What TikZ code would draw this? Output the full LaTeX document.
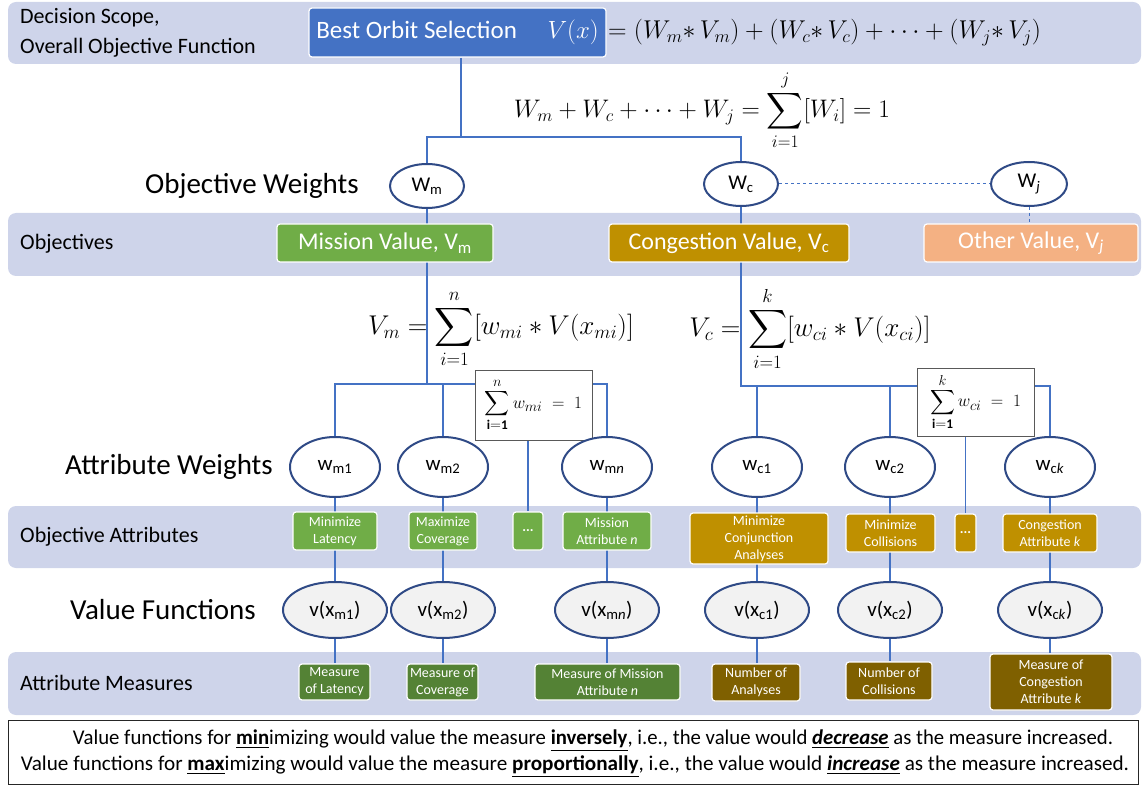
\documentclass[tikz,border=0pt]{standalone}
\usepackage{amsmath}
\usepackage{graphicx}
\usepackage{fontspec}
\setmainfont{Carlito}
\usetikzlibrary{shapes.geometric}
\pgfdeclarelayer{bands}
\pgfdeclarelayer{wires}
\pgfsetlayers{bands,wires,main}
\definecolor{bandc}{RGB}{206,212,234}
\definecolor{topc}{RGB}{68,114,196}
\definecolor{grn}{RGB}{112,173,71}
\definecolor{gold}{RGB}{191,144,0}
\definecolor{orng}{RGB}{244,177,131}
\definecolor{dgrn}{RGB}{84,130,53}
\definecolor{dgold}{RGB}{127,96,0}
\definecolor{linec}{RGB}{68,114,196}
\definecolor{ellc}{RGB}{47,74,134}
\definecolor{vfill}{RGB}{242,242,242}
\tikzset{
  band/.style={fill=bandc, rounded corners=8pt},
  lbl/.style={anchor=west, inner sep=0, font=\fontsize{22}{26}\selectfont},
  biglbl/.style={anchor=west, inner sep=0, font=\fontsize{29}{32}\selectfont},
  wire/.style={draw=linec, line width=1.8pt},
  dline/.style={draw=linec, line width=1pt, dashed},
  ellw/.style={ellipse, draw=ellc, line width=2pt, fill=white, inner sep=0, font=\fontsize{21}{24}\selectfont},
  ellv/.style={ellw, fill=vfill},
  obox/.style={rectangle, rounded corners=3pt, draw=white, line width=1.2pt, text=white, align=center, inner sep=0},
  objbox/.style={obox, font=\fontsize{24}{28}\selectfont, minimum height=38pt},
  atbox/.style={obox, font=\fontsize{14}{17}\selectfont},
  sumbox/.style={rectangle, draw=black!65, line width=1pt, fill=white, inner sep=0, font=\fontsize{19}{22}\selectfont},
  eqn/.style={inner sep=0, font=\fontsize{24}{28}\selectfont},
}
\begin{document}
\begin{tikzpicture}[x=1pt,y=-1pt]
\useasboundingbox (0,0) rectangle (1146,786);
% bands
\begin{pgfonlayer}{bands}
\fill[band] (8,2) rectangle (1141,64);
\fill[band] (8,213) rectangle (1141,276);
\fill[band] (8,506) rectangle (1141,568);
\fill[band] (8,652) rectangle (1141,715);
\end{pgfonlayer}
% row labels
\node[lbl] (lDS) at (20,18) {Decision Scope,};
\node[lbl] (lOF) at (20,48) {Overall Objective Function};
\node[biglbl] (lOW) at (145,186) {Objective Weights};
\node[lbl] (lOB) at (20,244) {Objectives};
\node[biglbl] (lAW) at (65,467) {Attribute Weights};
\node[lbl] (lOA) at (20,537) {Objective Attributes};
\node[biglbl] (lVF) at (70,610) {Value Functions};
\node[lbl] (lAM) at (20,683) {Attribute Measures};
% top
\node[obox, fill=topc, minimum width=297pt, minimum height=49pt, font=\fontsize{25}{30}\selectfont] (top) at (457.5,32.5) {Best Orbit Selection\quad\ $V(x)$};
\node[eqn, anchor=west] (eqV) at (608,33) {\scalebox{1.035}{$= (W_m{*}\,V_m) + (W_c{*}\,V_c) + \cdots + (W_j{*}\,V_j)$}};
\node[eqn] (eqW) at (702,110) {\scalebox{1.02}{$W_m + W_c + \cdots + W_j = \displaystyle\sum_{i=1}^{j}[W_i] = 1$}};
% objective weights
\node[ellw, minimum width=74pt, minimum height=44pt] (Wm) at (427,186) {W\textsubscript{m}};
\node[ellw, minimum width=74pt, minimum height=44pt] (Wc) at (741,184) {W\textsubscript{c}};
\node[ellw, minimum width=76pt, minimum height=44pt] (Wj) at (1029,184) {W\textsubscript{\textit{j}}};
% objectives
\node[objbox, fill=grn, minimum width=216pt] (Mv) at (385,243) {Mission Value, V\textsubscript{m}};
\node[objbox, fill=gold, minimum width=240pt] (Cv) at (729,243) {Congestion Value, V\textsubscript{c}};
\node[objbox, fill=orng, minimum width=214pt] (Ov) at (1031,243) {Other Value, V\textsubscript{\textit{j}}};
% equations
\node[eqn] (eqVm) at (501,329) {\scalebox{1.09}{$V_m = \displaystyle\sum_{i=1}^{n}[w_{mi} * V(x_{mi})]$}};
\node[eqn] (eqVc) at (810,329) {\scalebox{1.09}{$V_c = \displaystyle\sum_{i=1}^{k}[w_{ci} * V(x_{ci})]$}};
\node[sumbox, minimum width=117pt, minimum height=70pt] (Sm) at (533.5,405) {$\displaystyle\sum_{\mathbf{i=1}}^{n} w_{mi}\;=\;1$};
\node[sumbox, minimum width=117pt, minimum height=68pt] (Sc) at (975.5,402) {$\displaystyle\sum_{\mathbf{i=1}}^{k} w_{ci}\;=\;1$};
% attribute weights
\node[ellw, minimum width=90pt, minimum height=60pt] (wm1) at (335,467) {w\textsubscript{m1}};
\node[ellw, minimum width=90pt, minimum height=60pt] (wm2) at (443,467) {w\textsubscript{m2}};
\node[ellw, minimum width=90pt, minimum height=60pt] (wmn) at (607,467) {w\textsubscript{m\textit{n}}};
\node[ellw, minimum width=90pt, minimum height=60pt] (wc1) at (757,467) {w\textsubscript{c1}};
\node[ellw, minimum width=90pt, minimum height=60pt] (wc2) at (890,467) {w\textsubscript{c2}};
\node[ellw, minimum width=90pt, minimum height=60pt] (wck) at (1050,467) {w\textsubscript{c\textit{k}}};
% objective attributes
\node[atbox, fill=grn, minimum width=84pt, minimum height=38pt] (am1) at (335,531) {Minimize\\Latency};
\node[atbox, fill=grn, minimum width=68pt, minimum height=38pt] (am2) at (443,531) {Maximize\\Coverage};
\node[atbox, fill=grn, minimum width=30pt, minimum height=38pt] (dm) at (528,531) {\textbf{...}};
\node[atbox, fill=grn, minimum width=88pt, minimum height=38pt] (amn) at (607,531) {Mission\\Attribute \textit{n}};
\node[atbox, fill=gold, minimum width=138pt, minimum height=51pt] (ac1) at (759,538.5) {Minimize\\Conjunction\\Analyses};
\node[atbox, fill=gold, minimum width=89pt, minimum height=38pt] (ac2) at (890.5,533) {Minimize\\Collisions};
\node[atbox, fill=gold, minimum width=21pt, minimum height=38pt] (dc) at (965.5,533) {\textbf{...}};
\node[atbox, fill=gold, minimum width=94pt, minimum height=38pt] (ack) at (1050,533) {Congestion\\Attribute \textit{k}};
% value functions
\node[ellv, minimum width=104pt, minimum height=56pt] (vm1) at (335,610) {v(x\textsubscript{m1})};
\node[ellv, minimum width=104pt, minimum height=56pt] (vm2) at (443,610) {v(x\textsubscript{m2})};
\node[ellv, minimum width=104pt, minimum height=56pt] (vmn) at (607,610) {v(x\textsubscript{m\textit{n}})};
\node[ellv, minimum width=104pt, minimum height=56pt] (vc1) at (757,610) {v(x\textsubscript{c1})};
\node[ellv, minimum width=104pt, minimum height=56pt] (vc2) at (890,610) {v(x\textsubscript{c2})};
\node[ellv, minimum width=104pt, minimum height=56pt] (vck) at (1050,610) {v(x\textsubscript{c\textit{k}})};
% attribute measures
\node[atbox, fill=dgrn, minimum width=71pt, minimum height=36pt] (mm1) at (334.5,682) {Measure\\of Latency};
\node[atbox, fill=dgrn, minimum width=71pt, minimum height=36pt] (mm2) at (442.5,682) {Measure of\\Coverage};
\node[atbox, fill=dgrn, minimum width=145pt, minimum height=36pt] (mmn) at (607.5,682) {Measure of Mission\\Attribute \textit{n}};
\node[atbox, fill=dgold, minimum width=88pt, minimum height=37pt] (mc1) at (756,682.5) {Number of\\Analyses};
\node[atbox, fill=dgold, minimum width=86pt, minimum height=38pt] (mc2) at (889,681) {Number of\\Collisions};
\node[atbox, fill=dgold, minimum width=122pt, minimum height=56pt] (mck) at (1051,682) {Measure of\\Congestion\\Attribute \textit{k}};
% note box
\node[draw=black!85, line width=1pt, minimum width=1130pt, minimum height=64pt, inner sep=0] (note) at (573,752) {};
\node[inner sep=0, font=\fontsize{21}{24}\selectfont] (n1) at (593,741) {\resizebox{1040pt}{\height}{Value functions for \underline{\textbf{min}}imizing would value the measure \underline{\textbf{inversely}}, i.e., the value would \underline{\textbf{\textit{decrease}}} as the measure increased.}};
\node[inner sep=0, font=\fontsize{21}{24}\selectfont] (n2) at (575,767) {\resizebox{1108pt}{\height}{Value functions for \underline{\textbf{max}}imizing would value the measure \underline{\textbf{proportionally}}, i.e., the value would \underline{\textbf{\textit{increase}}} as the measure increased.}};
% wires
\begin{pgfonlayer}{wires}
\coordinate (tJ) at (461,137);
\draw[wire] (top.south -| tJ) -- (tJ);
\draw[wire] (Wm.north) -- (Wm.north |- tJ) -- (Wc.north |- tJ) -- (Wc.north);
\draw[dline] (Wc.east) -- (Wj.west);
\draw[dline] (Wj.south) -- (Wj.south |- Ov.north);
\coordinate (mJ) at (427,384);
\draw[wire] (Wm.south) -- (mJ);
\draw[wire] (wm1.north) -- (wm1.north |- mJ) -- (wmn.north |- mJ) -- (wmn.north);
\draw[wire] (wm2.north) -- (wm2.north |- mJ);
\draw[wire] (dm.north) -- (dm.north |- Sm.south);
\coordinate (cJ) at (741,386);
\draw[wire] (Wc.south) -- (cJ) -- (wck.north |- cJ) -- (wck.north);
\draw[wire] (wc1.north) -- (wc1.north |- cJ);
\draw[wire] (wc2.north) -- (wc2.north |- cJ);
\draw[wire] (dc.north) -- (dc.north |- Sc.south);
\foreach \a/\b in {wm1/vm1,wm2/vm2,wmn/vmn,wc1/vc1,wc2/vc2,wck/vck}{
  \draw[wire] (\a.south) -- (\b.north);
}
\foreach \a/\b in {vm1/mm1,vm2/mm2,vmn/mmn,vc1/mc1,vc2/mc2,vck/mck}{
  \draw[wire] (\a.south) -- (\a.south |- \b.north);
}
\end{pgfonlayer}
\end{tikzpicture}
\end{document}
